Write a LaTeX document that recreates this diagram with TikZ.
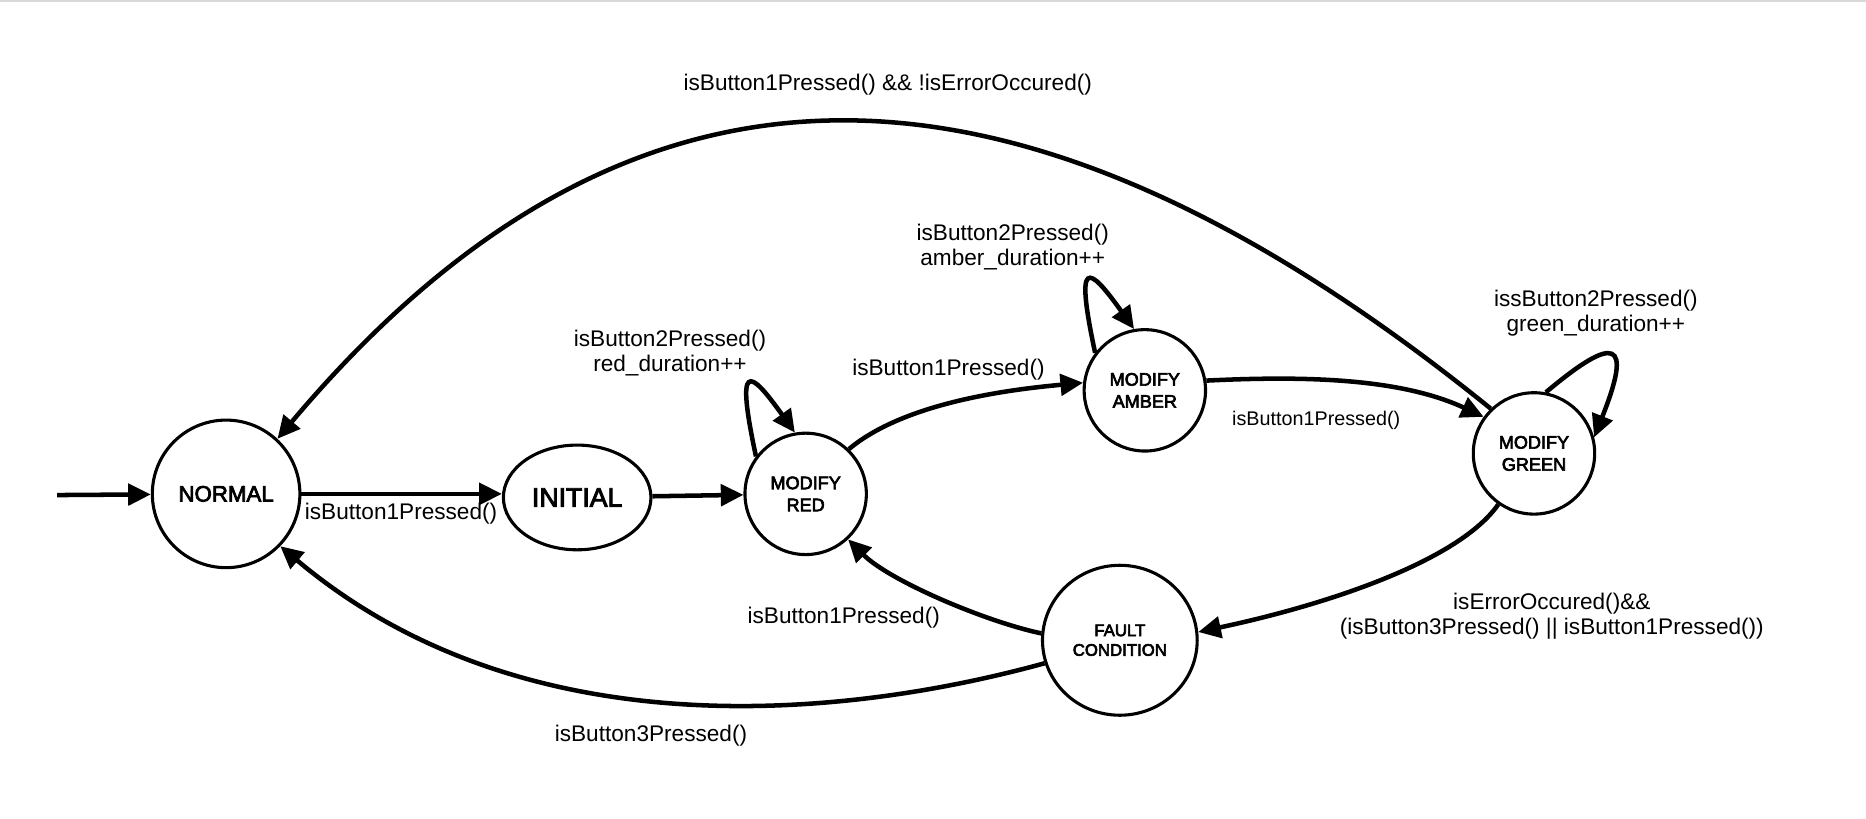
\documentclass[tikz,border=0pt]{standalone}
\usepackage{fontspec}
\setmainfont{Liberation Sans}
\newfontfamily\nodefont[FakeBold=3.5]{Liberation Sans}
\usetikzlibrary{arrows.meta,shapes.geometric}
\begin{document}
\begin{tikzpicture}[x=1pt,y=-1pt,
  state/.style={draw, circle, line width=2.6pt, inner sep=0pt, minimum size=102pt,
    font=\nodefont\fontsize{15.2}{18.5}\selectfont, align=center},
  edge/.style={line width=3.8pt, -{Triangle[length=19pt,width=18pt]}},
  lbl/.style={font=\fontsize{19}{21}\selectfont, align=center, inner sep=0pt},
  smalllbl/.style={font=\fontsize{16.6}{19}\selectfont, align=center, inner sep=0pt},
]
\fill[white] (0,0) rectangle (1568,688);
\useasboundingbox (0,0) rectangle (1568,688);
\draw[black!15, line width=1.5pt] (0,0.75) -- (1568,0.75);

% states
\node[state, minimum size=124pt, font=\nodefont\fontsize{18.7}{22}\selectfont] (normal) at (190,415) {NORMAL};
\node[draw, ellipse, line width=2.6pt, inner sep=0pt, minimum width=124pt, minimum height=88pt,
      font=\nodefont\fontsize{22.4}{26}\selectfont] (initial) at (485,418) {INITIAL};
\node[state] (red) at (677,415) {MODIFY\\RED};
\node[state] (amber) at (962,328) {MODIFY\\AMBER};
\node[state] (green) at (1289,381) {MODIFY\\GREEN};
\node[draw, ellipse, line width=2.6pt, inner sep=0pt, minimum width=130pt, minimum height=126pt,
      font=\nodefont\fontsize{14.1}{16.5}\selectfont, align=center] (fault) at (941,538) {FAULT\\CONDITION};

% start
\coordinate (start) at (48,416);
\draw[edge] (start) -- (normal);

% transitions
\draw[edge] (normal.east) -- (normal.east -| initial.west);
\node[lbl] (l1) at (337,432) {isButton1Pressed()};

\draw[edge] (initial) -- (red);

\draw[edge] (red.46) .. controls (758.4,339.7) and (841.7,327.9) .. (amber.173);
\node[lbl] (l2) at (797,311) {isButton1Pressed()};

\draw[edge] (amber.9) .. controls (1092,316) and (1175,317) .. (green.144);
\node[smalllbl] (l3) at (1106,353) {isButton1Pressed()};

\draw[edge] (green.134) .. controls (847,15) and (525,22) .. (normal.47);
\node[lbl] (l4) at (746,71) {isButton1Pressed() \&\& !isErrorOccured()};

\draw[edge] (green.235) .. controls (1225.3,472) and (1113.2,508.5) .. (fault.6);
\node[lbl] (l5) at (1304,518) {isErrorOccured()\&\&\\(isButton3Pressed() || isButton1Pressed())};

\draw[edge] (fault.175) .. controls (827,522) and (747,487.7) .. (red.-47);
\node[lbl] (l6) at (709,519) {isButton1Pressed()};

\draw[edge] (fault.197) .. controls (708,604) and (440,631) .. (normal.-44);
\node[lbl] (l7) at (547,618) {isButton3Pressed()};

% self loops
\draw[edge] (red.143) .. controls (618,303) and (629,309) .. (red.100);
\node[lbl] (l8) at (563,297) {isButton2Pressed()\\red\_duration++};

\draw[edge] (amber.143) .. controls (903,216) and (914,222) .. (amber.100);
\node[lbl] (l9) at (851,208) {isButton2Pressed()\\amber\_duration++};

\draw[edge] (green.79) .. controls (1358,280) and (1372,286) .. (green.15);
\node[lbl] (l10) at (1341,263) {issButton2Pressed()\\green\_duration++};
\end{tikzpicture}
\end{document}
